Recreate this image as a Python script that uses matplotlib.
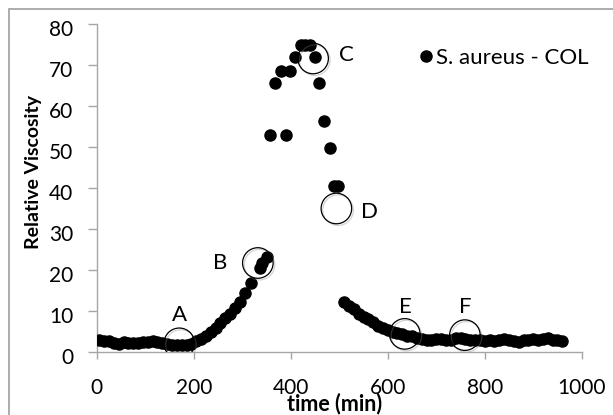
import matplotlib
matplotlib.use("Agg")
import matplotlib.pyplot as plt
import matplotlib.patheffects as pe
from matplotlib.patches import Rectangle
from matplotlib.transforms import ScaledTranslation

# Données : temps (min) et viscosité relative
temps = [5, 15, 25, 35, 45, 55, 65, 75, 85, 95, 105, 115, 125, 135, 145, 155,
         165, 175, 185, 195, 205, 215, 225, 235, 245, 255, 265, 275, 285, 295,
         305, 317, 336, 340, 350,
         358, 368, 379, 390, 399, 408, 420, 430, 440, 449, 458, 469, 480, 489, 498,
         510, 520, 530, 540, 550, 560, 570, 580, 590, 600, 610, 620, 630, 640,
         650, 660, 670, 680, 690, 700, 710, 720, 730, 740, 750, 760, 770, 780,
         790, 800, 810, 820, 830, 840, 850, 860, 870, 880, 890, 900, 910, 920,
         930, 940, 950, 960]
viscosite = [2.8, 2.7, 2.6, 2.2, 2.0, 2.3, 2.1, 2.2, 2.1, 2.3, 2.4, 2.6, 2.3, 2.1,
             2.0, 1.8, 1.7, 1.6, 1.7, 2.0, 2.6, 3.2, 4.0, 4.9, 5.9, 7.0, 8.2, 9.3,
             10.6, 12.2, 14.3, 16.8, 20.5, 21.6, 23.2,
             53.0, 65.7, 68.6, 53.0, 68.6, 71.9, 75.0, 75.0, 75.0, 71.9, 65.7, 56.3,
             49.8, 40.6, 40.6,
             12.3, 11.3, 10.4, 9.3, 8.4, 8.0, 7.2, 6.4, 5.8, 5.4, 4.8, 4.6, 4.3,
             4.0, 3.9, 3.5, 3.2, 3.0, 2.8, 3.1, 3.2, 2.9, 3.0, 3.3, 3.4, 3.2, 3.0,
             2.8, 2.9, 2.7, 2.8, 2.7, 3.0, 3.2, 2.9, 2.6, 2.5, 2.9, 2.8, 3.1, 2.9,
             3.2, 3.4, 3.0, 2.8, 2.6]

# Points repérés (cercles A à F) et position des lettres
reperes = ["A", "B", "C", "D", "E", "F"]
cercle_x = [170, 332, 446, 494, 635, 759]
cercle_y = [2.1, 21.7, 71.6, 35.0, 4.4, 4.1]
lettre_x = [171, 254, 515, 563, 637, 759]
lettre_y = [9.0, 21.7, 72.4, 34.2, 11.0, 11.0]

police = "Lato"
gris = "#a6a6a6"

fig = plt.figure(figsize=(6.13, 4.15), dpi=100)
ax = fig.add_axes([0.158, 0.152, 0.791, 0.790])

# cadre gris autour de la figure
fig.patches.append(Rectangle((9 / 613, -0.02), 1.05, 1 - 9 / 415 + 0.02,
                             transform=fig.transFigure, fill=False,
                             ec=gris, lw=1.3))

ax.plot(temps, viscosite, "o", color="black", ms=8, ls="none",
        label="S. aureus - COL", zorder=3)

ombre = [pe.SimpleLineShadow(offset=(1.2, -1.2), shadow_color="gray", alpha=0.35),
         pe.Normal()]
ax.plot(cercle_x, cercle_y, "o", ms=22, mfc="none", mec="black", mew=0.9,
        ls="none", zorder=4, path_effects=ombre)
for lettre, lx, ly in zip(reperes, lettre_x, lettre_y):
    ax.text(lx, ly, lettre, ha="center", va="center", fontsize=16,
            family=police, zorder=5)

ax.set_xlim(0, 1000)
ax.set_ylim(0, 80)
ax.set_xticks(range(0, 1001, 200))
ax.set_yticks(range(0, 81, 10))

for side in ["top", "right"]:
    ax.spines[side].set_visible(False)
for side in ["left", "bottom"]:
    ax.spines[side].set_color(gris)
    ax.spines[side].set_linewidth(1.0)
ax.tick_params(axis="y", direction="out", length=6.5, width=1.0, color=gris,
               pad=10.5, labelsize=15)
ax.tick_params(axis="x", direction="out", length=5, width=1.0, color=gris,
               pad=13.5, labelsize=15)
for lab in ax.get_xticklabels():
    lab.set_family(police)
for lab in ax.get_yticklabels():
    lab.set_family(police)
    lab.set_transform(lab.get_transform() + ScaledTranslation(0, -0.04, fig.dpi_scale_trans))

ax.set_xlabel("time (min)", fontsize=15.5, fontweight="bold", family=police)
ax.set_ylabel("Relative Viscosity", fontsize=14, fontweight="bold", family=police)
ax.xaxis.set_label_coords(0.49, -0.124)
ax.yaxis.set_label_coords(-0.113, 0.549)

leg = ax.legend(loc="center left", bbox_to_anchor=(0.666, 0.896), frameon=False,
                handlelength=0.6, handletextpad=0.15, borderpad=0, borderaxespad=0,
                prop={"family": police, "size": 16})

plt.savefig("out.png", dpi=100)
